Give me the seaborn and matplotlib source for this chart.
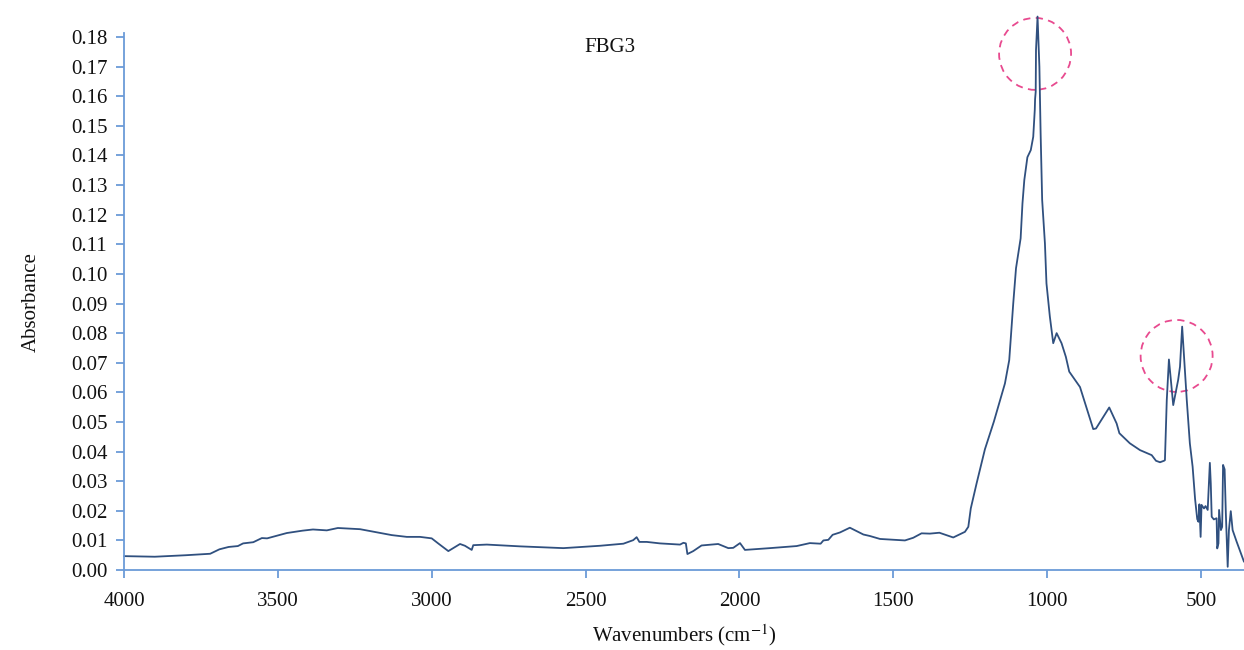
import matplotlib
matplotlib.use("Agg")
import matplotlib.pyplot as plt
from matplotlib.patches import Ellipse
import seaborn as sns
import pandas as pd

# FTIR spectrum of FBG3
wavenumber = [4000, 3900, 3800, 3720, 3690, 3660, 3630, 3613, 3580, 3552, 3535, 3471, 3420, 3386,
              3341, 3305, 3233, 3191, 3130, 3081, 3038, 3000, 2979, 2946, 2908, 2892, 2870, 2865,
              2821, 2713, 2572, 2453, 2377, 2345, 2334, 2325, 2301, 2258, 2193, 2182, 2174, 2169,
              2150, 2123, 2069, 2036, 2020, 1998, 1982, 1901, 1814, 1771, 1736, 1727, 1711, 1697,
              1673, 1641, 1597, 1576, 1543, 1462, 1435, 1408, 1381, 1350, 1305, 1267, 1256, 1248,
              1229, 1202, 1173, 1137, 1123, 1110, 1101, 1086, 1080, 1074, 1064, 1053, 1045, 1040,
              1039, 1037, 1036, 1031, 1025, 1021, 1016, 1007, 1002, 991, 980, 969, 953, 939, 928,
              893, 850, 841, 798, 774, 765, 731, 698, 660, 646, 633, 620, 617, 611, 604, 590, 574,
              568, 561, 546, 536, 527, 519, 512, 508, 505, 501, 498, 490, 485, 478, 471, 468, 465,
              458, 449, 447, 443, 441, 435, 431, 428, 423, 419, 413, 409, 403, 397, 384, 360]
absorbance = [0.0047, 0.0045, 0.0050, 0.0055, 0.0070, 0.0078, 0.0081, 0.0090, 0.0094, 0.0108, 0.0107,
              0.0125, 0.0133, 0.0137, 0.0134, 0.0142, 0.0138, 0.0130, 0.0118, 0.0112, 0.0112, 0.0107,
              0.0090, 0.0064, 0.0088, 0.0082, 0.0068, 0.0084, 0.0086, 0.0080, 0.0074, 0.0082, 0.0089,
              0.0101, 0.0111, 0.0095, 0.0095, 0.0090, 0.0086, 0.0092, 0.0090, 0.0054, 0.0064, 0.0083,
              0.0088, 0.0074, 0.0075, 0.0091, 0.0068, 0.0074, 0.0081, 0.0091, 0.0089, 0.0100, 0.0102,
              0.0119, 0.0127, 0.0143, 0.0120, 0.0115, 0.0105, 0.0100, 0.0109, 0.0124, 0.0123, 0.0126,
              0.0110, 0.0129, 0.0146, 0.0208, 0.0293, 0.0408, 0.0501, 0.0630, 0.0709, 0.0900, 0.1019,
              0.1120, 0.1238, 0.1317, 0.1394, 0.1418, 0.1463, 0.1554, 0.1590, 0.1615, 0.1756, 0.1869,
              0.1700, 0.1475, 0.1250, 0.1103, 0.0968, 0.0856, 0.0766, 0.0800, 0.0766, 0.0720, 0.0670,
              0.0618, 0.0476, 0.0478, 0.0549, 0.0495, 0.0462, 0.0428, 0.0405, 0.0388, 0.0369, 0.0364,
              0.0369, 0.0371, 0.0574, 0.0711, 0.0557, 0.0642, 0.0687, 0.0822, 0.0574, 0.0428, 0.0349,
              0.0240, 0.0172, 0.0163, 0.0222, 0.0112, 0.0220, 0.0208, 0.0216, 0.0203, 0.0362, 0.0293,
              0.0180, 0.0171, 0.0175, 0.0073, 0.0090, 0.0203, 0.0135, 0.0146, 0.0355, 0.0340, 0.0191,
              0.0011, 0.0135, 0.0199, 0.0135, 0.0096, 0.0028]
x_ticks = [4000, 3500, 3000, 2500, 2000, 1500, 1000, 500]
y_ticks = [i / 100 for i in range(19)]

df = pd.DataFrame({"wn": wavenumber, "A": absorbance})

sns.set_theme(style="white")
plt.rcParams['font.family'] = ['Liberation Serif', 'DejaVu Serif']
plt.rcParams['mathtext.fontset'] = 'stix'

axis_col = "#6b9bd8"
line_col = "#30507f"

fig = plt.figure(figsize=(12.44, 6.5), dpi=100)
ax = fig.add_axes([0.0997, 0.123, 0.9003, 0.826])

sns.lineplot(data=df, x="wn", y="A", sort=False, estimator=None, color=line_col,
             linewidth=1.3, ax=ax, clip_on=False)

ax.set_xlim(4000, 360)
ax.set_ylim(0, 0.1813)
ax.set_xticks(x_ticks)
ax.set_yticks(y_ticks)
ax.set_yticklabels([f"{v:.2f}" for v in y_ticks])

for s in ["top", "right"]:
    ax.spines[s].set_visible(False)
for s in ["left", "bottom"]:
    ax.spines[s].set_color(axis_col)
    ax.spines[s].set_linewidth(1.3)

ax.tick_params(axis="both", which="major", length=6, width=1.3, color=axis_col,
               labelsize=15, labelcolor="#111111", direction="out",
               bottom=True, left=True)
ax.tick_params(axis="y", pad=6)
ax.tick_params(axis="x", pad=10)
ax.grid(False)

ax.set_xlabel("Wavenumbers (cm$^{-1}$)", fontsize=15, color="#111111", labelpad=8)
ax.set_ylabel("Absorbance", fontsize=15, color="#111111", labelpad=22)
ax.text(0.434, 0.974, "FBG3", transform=ax.transAxes, fontsize=15, ha="center", va="center",
        color="#111111")

# dashed highlight circles around the two main bands
circles = [(1039, 0.1743), (579, 0.0723)]
for cx, cy in circles:
    ax.add_patch(Ellipse((cx, cy), width=234, height=0.0243, fill=False,
                         edgecolor="#e84a8f", linestyle=(0, (4, 3)), linewidth=1.3,
                         clip_on=False))

fig.savefig("out.png", dpi=100)
